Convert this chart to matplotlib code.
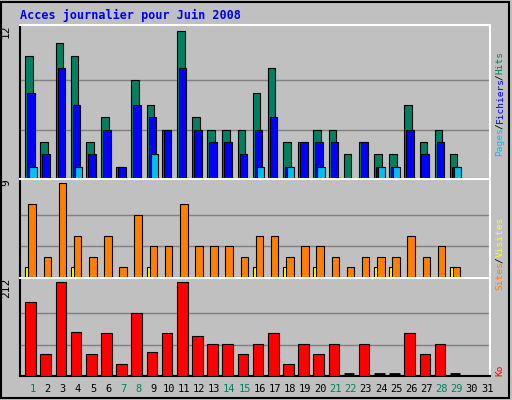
import numpy as np
import matplotlib
matplotlib.use("Agg")
import matplotlib.pyplot as plt

days = np.arange(1, 32)
weekend = [1, 7, 8, 14, 15, 21, 22, 28, 29]
hits = [10, 3, 11, 10, 3, 5, 1, 8, 6, 4, 12, 5, 4, 4, 4, 7, 9, 3, 3, 4, 4, 2, 3, 2, 2, 6, 3, 4, 2, 0, 0]
files = [7, 2, 9, 6, 2, 4, 1, 6, 5, 4, 9, 4, 3, 3, 2, 4, 5, 1, 3, 3, 3, 0, 3, 1, 1, 4, 2, 3, 1, 0, 0]
pages = [1, 0, 0, 1, 0, 0, 0, 0, 2, 0, 0, 0, 0, 0, 0, 1, 0, 1, 0, 1, 0, 0, 0, 1, 1, 0, 0, 0, 1, 0, 0]
visits = [7, 2, 9, 4, 2, 4, 1, 6, 3, 3, 7, 3, 3, 3, 2, 4, 4, 2, 3, 3, 2, 1, 2, 2, 2, 4, 2, 3, 1, 0, 0]
sites = [1, 0, 0, 1, 0, 0, 0, 0, 1, 0, 0, 0, 0, 0, 0, 1, 0, 1, 0, 1, 0, 0, 0, 1, 1, 0, 0, 0, 1, 0, 0]
kb = [166, 50, 212, 98, 50, 96, 27, 142, 53, 96, 212, 90, 73, 73, 50, 73, 96, 27, 73, 50, 73, 0, 73, 0, 0, 96, 50, 73, 0, 0, 0]

bg = "#c0c0c0"
mono = "DejaVu Sans Mono"
fig = plt.figure(figsize=(5.12, 4.0), dpi=100, facecolor=bg)
fig.patches.append(plt.Rectangle((0.002, 0.004), 0.992, 0.99, transform=fig.transFigure,
                                 fill=False, edgecolor="black", lw=1.5))
fig.text(0.04, 0.962, "Acces journalier pour Juin 2008", color="#0000ee", family=mono,
         fontsize=8.5, fontweight="bold", va="center")

L, R = 20 / 512, 490 / 512
X0, X1 = 0.25, 31.25
def mk(top, bot):
    ax = fig.add_axes([L, 1 - bot / 400, R - L, (bot - top) / 400])
    ax.set_facecolor(bg)
    ax.set_xlim(X0, X1)
    ax.set_xticks([])
    ax.set_yticks([])
    for s in ax.spines.values():
        s.set_color("white")
        s.set_linewidth(1.5)
    ax.spines["left"].set_color("black")
    ax.spines["bottom"].set_color("black")
    return ax

ax1 = mk(25, 179)
ax2 = mk(179, 278)
ax3 = mk(278, 376)

kw = dict(align="edge", edgecolor="black", linewidth=0.8)
def bars(ax, offs, width, vals, color):
    v = np.array(vals, float)
    m = v > 0
    ax.bar(days[m] + offs, v[m], width, color=color, zorder=3, **kw)

for ax, vmax in [(ax1, 12), (ax2, 9), (ax3, 212)]:
    for g in (vmax / 3, vmax * 2 / 3):
        ax.axhline(g, color="#808080", lw=1, zorder=1)
    ax.set_ylim(0, vmax * 1.04)

bars(ax1, -0.4, 0.5, hits, "#008060")
bars(ax1, -0.27, 0.5, files, "#0000ff")
bars(ax1, -0.13, 0.47, pages, "#00c0f0")
bars(ax2, -0.4, 0.25, sites, "#ffff00")
bars(ax2, -0.2, 0.5, visits, "#ff8000")
bars(ax3, -0.4, 0.7, kb, "#ff0000")
kb_arr = np.array(kb)
zd = days[:29][kb_arr[:29] == 0]
ax3.hlines(np.full(len(zd), 3.5), zd - 0.4, zd + 0.3, color="black", lw=2, zorder=4)

for ax, lab in [(ax1, "12"), (ax2, "9"), (ax3, "212")]:
    ax.text(-0.03, 1.0, lab, transform=ax.transAxes, rotation=90, ha="center", va="top",
            fontsize=8, family=mono)

for d in days:
    fig.text((20 + (d - X0) * 470 / 31 + 1) / 512, 1 - 389 / 400, str(d),
             ha="center", va="center", fontsize=7.5, family=mono,
             color="#008060" if d in weekend else "black")

CH = 5.45  # pixels per character, rotated side labels
def side(parts, ybot):
    y = ybot
    for txt, col in parts:
        fig.text(500 / 512, 1 - y / 400, txt, rotation=90, ha="center", va="bottom",
                 fontsize=6.8, family=mono, color=col)
        y -= len(txt) * CH

side([("Pages", "#00c0f0"), ("/", "black"), ("Fichiers", "#0000ff"),
      ("/", "black"), ("Hits", "#008060")], 156)
side([("Sites", "#ff8000"), ("/", "black"), ("Visites", "#ffff00")], 290)
side([("Ko", "#ff0000")], 376)

fig.savefig("out.png", dpi=100, facecolor=bg)
